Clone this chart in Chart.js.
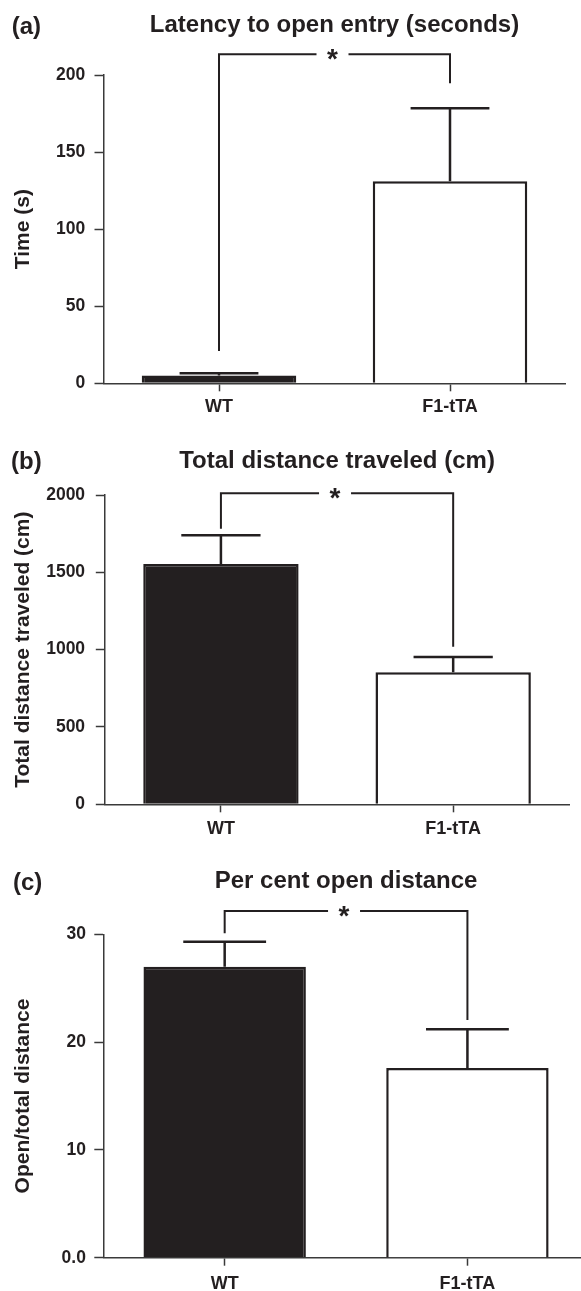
<!DOCTYPE html>
<html>
<head>
<meta charset="utf-8">
<script src="https://cdn.jsdelivr.net/npm/chart.js@4/dist/chart.umd.min.js"></script>
<style>
html, body { margin: 0; padding: 0; background: #ffffff; width: 581px; height: 1291px; overflow: hidden; }
.panel { position: absolute; left: 0; width: 581px; overflow: hidden; }
canvas { display: block; }
</style>
</head>
<body>
<div class="panel" style="top:0px;height:420px"><canvas id="chartA" width="581" height="420"></canvas></div>
<div class="panel" style="top:420px;height:430px"><canvas id="chartB" width="581" height="430"></canvas></div>
<div class="panel" style="top:850px;height:441px"><canvas id="chartC" width="600" height="441"></canvas></div>
<script>
// ---------------- data ----------------
const categories = ['WT', 'F1-tTA'];

// (a) Latency to open entry (seconds)
const latencyMean = [5, 131];
const latencySEM = [1.5, 47.4];
const latencyTicks = [0, 50, 100, 150, 200];
const latencyTickLabels = ['0', '50', '100', '150', '200'];
const latencyBracket = [213.5, 21, 194.6];   // bracket level, left leg end, right leg end

// (b) Total distance traveled (cm)
const distanceMean = [1554, 854];
const distanceSEM = [186, 99];
const distanceTicks = [0, 500, 1000, 1500, 2000];
const distanceTickLabels = ['0', '500', '1000', '1500', '2000'];
const distanceBracket = [2012, 1781, 1019];

// (c) Per cent open distance
const openMean = [27.0, 17.6];
const openSEM = [2.3, 3.6];
const openTicks = [0, 10, 20, 30];
const openTickLabels = ['0.0', '10', '20', '30'];
const openBracket = [32.15, 30.1, 22.05];

// ---------------- styling ----------------
const FONT = '"Liberation Sans", Arial, Helvetica, sans-serif';
const INK = '#231f20';
const AXIS = '#3a3a3a';
Chart.defaults.font.family = FONT;
Chart.defaults.color = INK;

const sigPlugin = {
  id: 'sig',
  afterDatasetsDraw(chart, args, o) {
    const ctx = chart.ctx;
    const y = chart.scales.y;
    const meta = chart.getDatasetMeta(0);
    ctx.save();
    ctx.strokeStyle = INK;
    ctx.lineCap = 'butt';
    ctx.lineJoin = 'miter';
    // error bars (mean + SEM)
    ctx.lineWidth = 2.5;
    meta.data.forEach((bar, i) => {
      const base = y.getPixelForValue(o.mean[i]);
      const top = y.getPixelForValue(o.mean[i] + o.sem[i]);
      const half = bar.width * 0.255;
      ctx.beginPath();
      ctx.moveTo(bar.x, base);
      ctx.lineTo(bar.x, top);
      ctx.moveTo(bar.x - half, top);
      ctx.lineTo(bar.x + half, top);
      ctx.stroke();
    });
    // significance bracket
    const yb = y.getPixelForValue(o.bracket[0]);
    const yl = y.getPixelForValue(o.bracket[1]);
    const yr = y.getPixelForValue(o.bracket[2]);
    const xl = meta.data[0].x, xr = meta.data[1].x;
    const xs = (xl + xr) / 2 - 2;
    ctx.lineWidth = 2;
    ctx.beginPath();
    ctx.moveTo(xl, yl);
    ctx.lineTo(xl, yb);
    ctx.lineTo(xs - 16, yb);
    ctx.moveTo(xs + 16, yb);
    ctx.lineTo(xr, yb);
    ctx.lineTo(xr, yr);
    ctx.stroke();
    ctx.fillStyle = INK;
    ctx.font = 'bold 28px ' + FONT;
    ctx.textAlign = 'center';
    ctx.textBaseline = 'alphabetic';
    const m = ctx.measureText('*');
    ctx.fillText('*', xs, yb + (m.actualBoundingBoxAscent - m.actualBoundingBoxDescent) / 2);
    // panel letter
    ctx.font = 'bold 24px ' + FONT;
    ctx.textAlign = 'left';
    ctx.fillText(o.letter, o.letterPos[0], o.letterPos[1]);
    ctx.restore();
  }
};

function makeChart(id, cfg) {
  const el = document.getElementById(id);
  const W = el.width, H = el.height;
  return new Chart(el, {
    type: 'bar',
    data: {
      labels: categories,
      datasets: [{
        data: cfg.mean,
        backgroundColor: [INK, '#ffffff'],
        borderColor: INK,
        borderWidth: 2.5,
        borderSkipped: 'bottom',
        barPercentage: 0.669,
        categoryPercentage: 1.0
      }]
    },
    options: {
      responsive: false,
      animation: false,
      devicePixelRatio: 1,
      layout: { padding: { left: 0, right: W - cfg.area.right, top: 0, bottom: 0 } },
      plugins: {
        legend: { display: false },
        tooltip: { enabled: false },
        title: {
          display: true,
          text: cfg.title,
          fullSize: false,
          color: INK,
          font: { family: FONT, size: 24, weight: 'bold', lineHeight: 1.2 },
          padding: { top: cfg.titlePad[0], bottom: cfg.titlePad[1] }
        },
        sig: {
          mean: cfg.mean, sem: cfg.sem, bracket: cfg.bracket,
          letter: cfg.letter, letterPos: cfg.letterPos
        }
      },
      scales: {
        x: {
          grid: { display: true, drawOnChartArea: false, offset: false, tickLength: 8, tickColor: AXIS, tickWidth: 1.5, color: AXIS },
          border: { display: true, color: AXIS, width: 1.5 },
          ticks: { color: INK, font: { family: FONT, size: 18, weight: 'bold' }, padding: cfg.xPad, maxRotation: 0 },
          afterFit: s => { s.height = H - cfg.area.bottom; }
        },
        y: {
          min: cfg.ticks[0],
          max: cfg.ticks[cfg.ticks.length - 1],
          afterBuildTicks: s => { s.ticks = cfg.ticks.map(v => ({ value: v })); },
          grid: { display: true, drawOnChartArea: false, tickLength: 9, tickColor: AXIS, tickWidth: 1.5, color: AXIS },
          border: { display: true, color: AXIS, width: 1.5 },
          ticks: {
            color: INK,
            font: { family: FONT, size: 17.5, weight: 'bold' },
            padding: cfg.yPad,
            callback: v => cfg.tickLabels[cfg.ticks.indexOf(v)]
          },
          title: {
            display: true,
            text: cfg.yTitle,
            color: INK,
            font: { family: FONT, size: 21, weight: 'bold', lineHeight: 1.2 },
            padding: { top: 11, bottom: 0 }
          },
          afterFit: s => { s.width = cfg.area.left; }
        }
      }
    },
    plugins: [sigPlugin]
  });
}

makeChart('chartA', {
  title: 'Latency to open entry (seconds)', yTitle: 'Time (s)',
  mean: latencyMean, sem: latencySEM, bracket: latencyBracket,
  ticks: latencyTicks, tickLabels: latencyTickLabels,
  letter: '(a)', letterPos: [11.7, 33.5],
  area: { left: 103.5, right: 565.5, bottom: 383.3 },
  titlePad: [10.7, 35.5], xPad: 5, yPad: 9.3
});

makeChart('chartB', {
  title: 'Total distance traveled (cm)', yTitle: 'Total distance traveled (cm)',
  mean: distanceMean, sem: distanceSEM, bracket: distanceBracket,
  ticks: distanceTicks, tickLabels: distanceTickLabels,
  letter: '(b)', letterPos: [11, 48.5],
  area: { left: 104.8, right: 569.3, bottom: 384.3 },
  titlePad: [26.5, 19.7], xPad: 5.6, yPad: 10.7
});

makeChart('chartC', {
  title: 'Per cent open distance', yTitle: 'Open/total distance',
  mean: openMean, sem: openSEM, bracket: openBracket,
  ticks: openTicks, tickLabels: openTickLabels,
  letter: '(c)', letterPos: [13, 40],
  area: { left: 103.3, right: 588.8, bottom: 407.7 },
  titlePad: [17.2, 38.3], xPad: 7.2, yPad: 8.4
});
</script>
</body>
</html>
